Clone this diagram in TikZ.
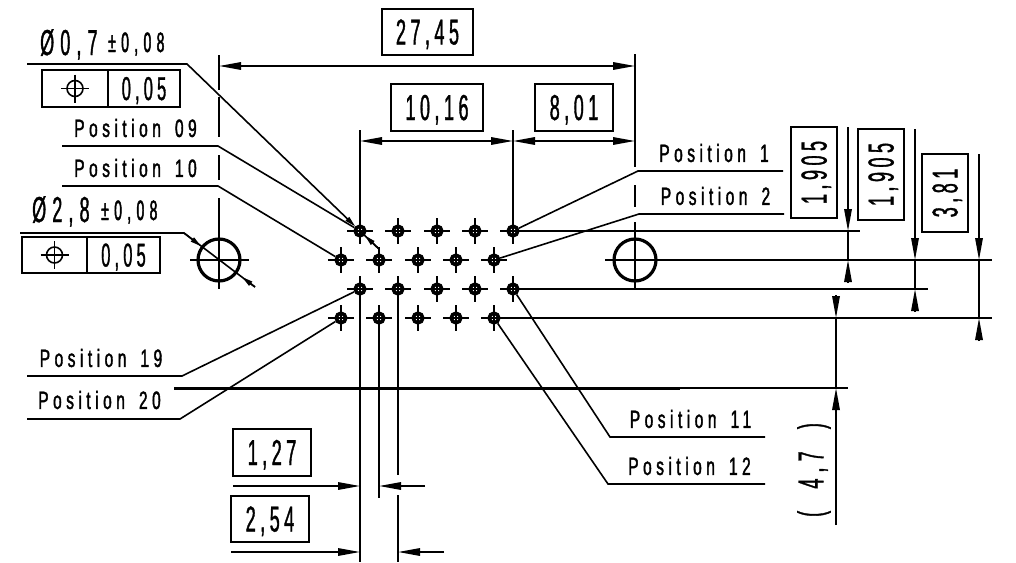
\documentclass[tikz,border=0pt]{standalone}
\usepackage{fontspec}
\usetikzlibrary{arrows.meta}
\newfontfamily\dimfont[FakeStretch=0.5,LetterSpace=12.5,WordSpace=3,FakeBold=1]{Liberation Sans}
\newfontfamily\calfont[FakeStretch=0.5,LetterSpace=17,WordSpace=2,FakeBold=1]{Liberation Sans}
\newfontfamily\tolfont[FakeStretch=0.5,LetterSpace=19,FakeBold=1.5]{Liberation Sans}
\newfontfamily\posfont[FakeStretch=0.62,LetterSpace=18,WordSpace=1.6,FakeBold=1.5]{Liberation Sans}
\tikzset{
    thinline/.style={line width=1.6pt},
    thickline/.style={line width=3pt},
    dimtip/.style={thinline, -{Triangle[length=22pt,width=7.5pt]}},
    bothtip/.style={thinline, {Triangle[length=22pt,width=7.5pt]}-{Triangle[length=22pt,width=7.5pt]}},
    holetip/.style={thinline, -{Triangle[length=11pt,width=5pt]}},
    dimbox/.style={draw, line width=1.7pt, inner sep=0pt, text height=25pt, text depth=0pt, font=\dimfont\fontsize{36}{36}\selectfont},
    tolbox/.style={draw, line width=1.7pt, inner sep=0pt, text height=23pt, text depth=0pt, font=\dimfont\fontsize{33}{33}\selectfont},
    dimtext/.style={inner sep=0pt, font=\calfont\fontsize{36}{36}\selectfont},
    tolsmall/.style={inner sep=0pt, font=\tolfont\fontsize{28}{28}\selectfont},
    postext/.style={inner sep=0pt, font=\posfont\fontsize{25}{25}\selectfont},
    pinhole/.style={draw, circle, line width=3.6pt, minimum size=9.5pt, inner sep=0pt},
    bighole/.style={draw, circle, line width=3.2pt, minimum size=42pt, inner sep=0pt},
    possym/.style={draw, circle, line width=1.6pt, minimum size=16pt, inner sep=0pt}
}
\begin{document}
\begin{tikzpicture}[x=1pt,y=-1pt]
    \useasboundingbox (0,0) rectangle (1016,562);

    % Draw the contact holes with their small crosses
    \foreach \n/\x/\y in {1/513/231, 3/475/231, 5/437/231, 7/398/231, 9/360/231,
                          2/494/260, 4/456/260, 6/418/260, 8/379/260, 10/341/260,
                          11/513/289, 13/475/289, 15/437/289, 17/398/289, 19/360/289,
                          12/494/318, 14/456/318, 16/418/318, 18/379/318, 20/341/318} {
        \node[pinhole] (p\n) at (\x,\y) {};
        \draw[thinline] (\x-13,\y) -- (\x+13,\y); % Horizontal arm
        \draw[thinline] (\x,\y-13) -- (\x,\y+13); % Vertical arm
    }

    % Draw the two large holes
    \node[bighole] (holeL) at (219,260) {};
    \node[bighole] (holeR) at (635,260) {};
    \draw[thinline] (190,260) -- (249,260);
    \foreach \a/\b in {55/90, 97/137, 155/180, 198/289} {
        \draw[thinline] (219,\a) -- (219,\b); % Broken extension line, left
    }
    \foreach \a/\b in {54/167, 185/207, 222/288} {
        \draw[thinline] (635,\a) -- (635,\b); % Broken extension line, right
    }

    % Extension lines to the right
    \coordinate (ext1) at (860,231);
    \coordinate (ext2a) at (927,260);
    \coordinate (ext2b) at (992,260);
    \coordinate (ext3) at (928,289);
    \coordinate (ext4) at (992,318);
    \coordinate (cl1) at (605,260);
    \draw[thinline] (p1) -- (ext1);
    \draw[thinline] (cl1) -- (ext2b);
    \draw[line width=2.6pt] (holeR) -- (ext2a);
    \draw[thinline] (p11) -- (ext3);
    \draw[thinline] (p12) -- (ext4);

    % Long centre line
    \coordinate (cl2a) at (174,388);
    \coordinate (cl2b) at (680,388);
    \coordinate (cl2c) at (848,388);
    \draw[thickline] (cl2a) -- (cl2b);
    \draw[thinline] (cl2b) -- (cl2c);

    % Extension lines up and down
    \coordinate (up9) at (360,130);
    \coordinate (up1) at (513,130);
    \draw[thinline] (p9) -- (up9);
    \draw[thinline] (p1) -- (up1);
    \coordinate (dn19) at (360,562);
    \coordinate (dn18) at (379,498);
    \coordinate (dn17a) at (398,475);
    \coordinate (dn17b) at (398,495);
    \coordinate (dn17c) at (398,562);
    \draw[thinline] (p19) -- (dn19);
    \draw[thinline] (p18) -- (dn18);
    \draw[thinline] (p17) -- (dn17a);
    \draw[thinline] (dn17b) -- (dn17c);

    % Horizontal dimensions on top
    \node[dimbox, minimum width=91pt, minimum height=46pt] (d2745) at (427.5,32) {27,45};
    \node[dimbox, minimum width=92pt, minimum height=47pt] (d1016) at (437,107.5) {10,16};
    \node[dimbox, minimum width=78pt, minimum height=47pt] (d801) at (574,107.5) {8,01};
    \coordinate (a0) at (219,66);
    \coordinate (a1) at (635,66);
    \coordinate (b0) at (360,141);
    \coordinate (b1) at (513,141);
    \coordinate (b2) at (635,141);
    \draw[bothtip] (a0) -- (a1);
    \draw[bothtip] (b0) -- (b1);
    \draw[bothtip] (b1) -- (b2);

    % Vertical dimensions on the right
    \node[dimbox, rotate=90, minimum width=91pt, minimum height=46pt] (d1905a) at (814,172.5) {1,905};
    \node[dimbox, rotate=90, minimum width=91pt, minimum height=46pt] (d1905b) at (881,174.5) {1,905};
    \node[dimbox, rotate=90, minimum width=78pt, minimum height=46pt] (d381) at (945,193) {3,81};
    \foreach \x/\top/\ya/\yb/\bot in {848/127/231/260/283, 915/129/260/289/312, 979/154/260/318/341} {
        \draw[dimtip] (\x,\top) -- (\x,\ya); % Upper arrow
        \draw[dimtip] (\x,\bot) -- (\x,\yb); % Lower arrow
        \draw[thinline] (\x,\ya) -- (\x,\yb);
    }
    \coordinate (e0) at (836,295);
    \coordinate (e1) at (836,318);
    \coordinate (e2) at (836,525);
    \coordinate (e3) at (836,388);
    \draw[dimtip] (e0) -- (e1);
    \draw[dimtip] (e2) -- (e3);
    \draw[thinline] (e1) -- (e3);
    \node[dimtext, rotate=90] (d47) at (814,470) {( 4,7 )};

    % Horizontal dimensions below
    \node[dimbox, minimum width=78pt, minimum height=47pt] (d127) at (272,452.5) {1,27};
    \node[dimbox, minimum width=78pt, minimum height=46pt] (d254) at (270,519) {2,54};
    \coordinate (g0) at (233,486);
    \coordinate (g1) at (360,486);
    \coordinate (g2) at (379,486);
    \coordinate (g3) at (425,486);
    \coordinate (h0) at (231,552);
    \coordinate (h1) at (360,552);
    \coordinate (h2) at (398,552);
    \coordinate (h3) at (444,552);
    \draw[dimtip] (g0) -- (g1);
    \draw[dimtip] (g3) -- (g2);
    \draw[dimtip] (h0) -- (h1);
    \draw[dimtip] (h3) -- (h2);

    % Diameter callout of the contact holes
    \node[dimtext, anchor=base west] (dia07) at (40,55) {Ø0,7};
    \node[tolsmall, anchor=base west] (tol07) at (108,52) {±0,08};
    \coordinate (la0) at (27,64);
    \coordinate (la1) at (187,64);
    \coordinate (la2) at (379,249);
    \draw[holetip] (la0) -- (la1) -- (p9);
    \draw[holetip] (la2) -- (p9);
    \draw[thinline] (la2) -- (p9.center);
    \node[tolbox, minimum width=66pt, minimum height=37pt] (fa0) at (75,88.5) {};
    \node[tolbox, minimum width=72pt, minimum height=37pt] (fa1) at (144,88.5) {0,05};
    \node[possym] (syma) at (fa0.center) {};
    \draw[thinline] (61,88.5) -- (89,88.5);
    \draw[thinline] (75,74.5) -- (75,102.5);

    % Diameter callout of the large hole
    \node[dimtext, anchor=base west] (dia28) at (32,222) {Ø2,8};
    \node[tolsmall, anchor=base west] (tol28) at (101,220) {±0,08};
    \coordinate (lb0) at (20,233);
    \coordinate (lb1) at (184,233);
    \coordinate (lb2) at (255,287);
    \coordinate (lb3) at (242,277);
    \draw[holetip] (lb0) -- (lb1) -- (holeL);
    \draw[thinline] (lb1) -- (lb2); % Runs through the hole
    \draw[holetip] (lb2) -- (lb3);
    \node[tolbox, minimum width=65pt, minimum height=36pt] (fb0) at (54.5,255) {};
    \node[tolbox, minimum width=73pt, minimum height=36pt] (fb1) at (123.5,255) {0,05};
    \node[possym] (symb) at (fb0.center) {};
    \draw[thinline] (40.5,255) -- (68.5,255);
    \draw[thinline] (54.5,241) -- (54.5,269);

    % Position labels with their leaders
    \foreach \lab/\tx/\ty/\xa/\xb/\ly/\pin in {
        Position 09/135.5/128/62/218/146/p9,
        Position 10/135.5/168/62/218/186/p10,
        Position 1/714/153/783/638/171/p1,
        Position 2/715.5/196/784/639/214/p2,
        Position 19/101/358/27/182/376/p19,
        Position 20/99.5/400/27/180/419/p20,
        Position 11/690.5/419/765/610/437/p11,
        Position 12/689.5/466/765/608/484/p12} {
        \node[postext] at (\tx,\ty) {\lab};
        \draw[thinline] (\xa,\ly) -- (\xb,\ly) -- (\pin);
    }
\end{tikzpicture}
\end{document}
